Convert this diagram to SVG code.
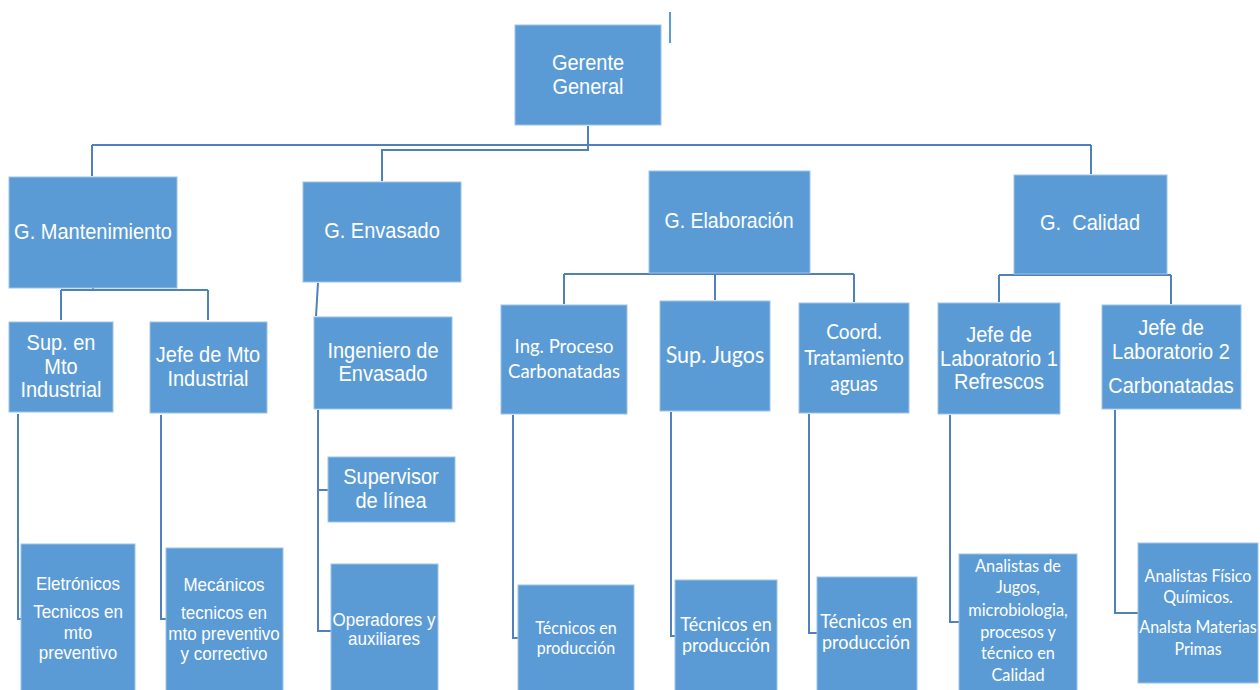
<svg xmlns="http://www.w3.org/2000/svg" width="1260" height="690" viewBox="0 0 1260 690">
  <style>
    .box { fill: #5B9BD5; stroke: #9DC3E6; stroke-width: 1; }
    .a { font-family: "Liberation Sans", Arial, sans-serif; fill: #ffffff; text-anchor: middle; }
    .c { font-family: Lato, "Open Sans", sans-serif; fill: #ffffff; text-anchor: middle; }
    .ln { fill: none; stroke: #4F81BD; stroke-width: 2; }
  </style>
  <rect width="1260" height="690" fill="#ffffff"/>

  <!-- connectors -->
  <g id="connectors" class="ln">
    <path d="M670 12 V43" stroke="#5B9BD5"/>
    <path d="M588 126 V145 M92 145 H1091 M92 145 V176 M1091 145 V174"/>
    <path d="M588 145 V150 H382 V181"/>
    <path d="M93 288 V290 M61 290 H208 M61 290 V320 M208 290 V320"/>
    <path d="M318 283 L316 316"/>
    <path d="M564 274 H854 M564 274 V304 M715 274 V300 M854 274 V302"/>
    <path d="M999 275 H1171 M999 275 V302 M1171 275 V304"/>
    <path d="M18 414 V619 H21"/>
    <path d="M161 415 V619 H166"/>
    <path d="M318 410 V631 H331 M318 490 H328"/>
    <path d="M513 415 V638 H518"/>
    <path d="M671 412 V636 H675"/>
    <path d="M809 414 V633 H817"/>
    <path d="M950 415 V622 H959"/>
    <path d="M1115 410 V613 H1138"/>
  </g>

  <!-- top level -->
  <g id="gerente-general">
    <rect class="box" x="515" y="25" width="146" height="100"/>
    <text class="a" font-size="20" transform="translate(588 70) scale(1 1.13)"><tspan x="0" y="0">Gerente</tspan><tspan x="0" y="21.2">General</tspan></text>
  </g>

  <!-- managers -->
  <g id="g-mantenimiento">
    <rect class="box" x="9" y="177" width="168" height="111"/>
    <text class="a" font-size="20" transform="translate(93 239) scale(1 1.13)"><tspan x="0" y="0">G. Mantenimiento</tspan></text>
  </g>
  <g id="g-envasado">
    <rect class="box" x="303" y="182" width="158" height="100"/>
    <text class="a" font-size="20" transform="translate(382 238) scale(1 1.13)"><tspan x="0" y="0">G. Envasado</tspan></text>
  </g>
  <g id="g-elaboracion">
    <rect class="box" x="649" y="171" width="161" height="102"/>
    <text class="a" font-size="19.5" transform="translate(729 228) scale(1 1.13)"><tspan x="0" y="0">G. Elaboración</tspan></text>
  </g>
  <g id="g-calidad">
    <rect class="box" x="1014" y="175" width="153" height="99"/>
    <text class="a" font-size="20" transform="translate(1090 230) scale(1 1.13)"><tspan x="0" y="0">G.&#160; Calidad</tspan></text>
  </g>

  <!-- second level -->
  <g id="sup-mto-industrial">
    <rect class="box" x="9" y="322" width="104" height="90"/>
    <text class="a" font-size="20" transform="translate(61 350) scale(1 1.13)"><tspan x="0" y="0">Sup. en</tspan><tspan x="0" y="21.2">Mto</tspan><tspan x="0" y="42">Industrial</tspan></text>
  </g>
  <g id="jefe-mto-industrial">
    <rect class="box" x="150" y="322" width="117" height="91"/>
    <text class="a" font-size="20" transform="translate(208 362) scale(1 1.13)"><tspan x="0" y="0">Jefe de Mto</tspan><tspan x="0" y="21.2">Industrial</tspan></text>
  </g>
  <g id="ingeniero-envasado">
    <rect class="box" x="314" y="317" width="138" height="92"/>
    <text class="a" font-size="20" transform="translate(383 358) scale(1 1.13)"><tspan x="0" y="0">Ingeniero de</tspan><tspan x="0" y="20.4">Envasado</tspan></text>
  </g>
  <g id="supervisor-linea">
    <rect class="box" x="328" y="457" width="127" height="65"/>
    <text class="a" font-size="20" transform="translate(391 484) scale(1 1.13)"><tspan x="0" y="0">Supervisor</tspan><tspan x="0" y="21.2">de línea</tspan></text>
  </g>
  <g id="ing-proceso-carbonatadas">
    <rect class="box" x="501" y="305" width="126" height="109"/>
    <text class="c" font-size="18.5" transform="translate(564 353) scale(1 1.08)"><tspan x="0" y="0">Ing. Proceso</tspan><tspan x="0" y="23">Carbonatadas</tspan></text>
  </g>
  <g id="sup-jugos">
    <rect class="box" x="660" y="301" width="110" height="110"/>
    <text class="c" font-size="21.5" transform="translate(715 363) scale(1 1.08)"><tspan x="0" y="0">Sup. Jugos</tspan></text>
  </g>
  <g id="coord-tratamiento-aguas">
    <rect class="box" x="799" y="303" width="110" height="110"/>
    <text class="c" font-size="19" transform="translate(854 339) scale(1 1.08)"><tspan x="0" y="0">Coord.</tspan><tspan x="0" y="24">Tratamiento</tspan><tspan x="0" y="48.2">aguas</tspan></text>
  </g>
  <g id="jefe-laboratorio-1">
    <rect class="box" x="938" y="303" width="122" height="111"/>
    <text class="a" font-size="20" transform="translate(999 342) scale(1 1.13)"><tspan x="0" y="0">Jefe de</tspan><tspan x="0" y="21.2">Laboratorio 1</tspan><tspan x="0" y="41.6">Refrescos</tspan></text>
  </g>
  <g id="jefe-laboratorio-2">
    <rect class="box" x="1102" y="305" width="139" height="104"/>
    <text class="a" font-size="20" transform="translate(1171 335) scale(1 1.13)"><tspan x="0" y="0">Jefe de</tspan><tspan x="0" y="21.2">Laboratorio 2</tspan><tspan x="0" y="51.3">Carbonatadas</tspan></text>
  </g>

  <!-- third level -->
  <g id="eletronicos">
    <rect class="box" x="21" y="544" width="114" height="150"/>
    <text class="a" font-size="17" transform="translate(78 590) scale(1 1.1)"><tspan x="0" y="0">Eletrónicos</tspan><tspan x="0" y="25.5">Tecnicos en</tspan><tspan x="0" y="44.5">mto</tspan><tspan x="0" y="62.7">preventivo</tspan></text>
  </g>
  <g id="mecanicos">
    <rect class="box" x="166" y="548" width="117" height="146"/>
    <text class="a" font-size="17" transform="translate(224 591) scale(1 1.1)"><tspan x="0" y="0">Mecánicos</tspan><tspan x="0" y="25.5">tecnicos en</tspan><tspan x="0" y="44.5">mto preventivo</tspan><tspan x="0" y="62.7">y correctivo</tspan></text>
  </g>
  <g id="operadores-auxiliares">
    <rect class="box" x="331" y="564" width="107" height="130"/>
    <text class="a" font-size="17" transform="translate(384 626) scale(1 1.1)"><tspan x="0" y="0">Operadores y</tspan><tspan x="0" y="17.3">auxiliares</tspan></text>
  </g>
  <g id="tecnicos-produccion-1">
    <rect class="box" x="518" y="585" width="116" height="109"/>
    <text class="c" font-size="16" transform="translate(576 634) scale(1 1.08)"><tspan x="0" y="0">Técnicos en</tspan><tspan x="0" y="18.5">producción</tspan></text>
  </g>
  <g id="tecnicos-produccion-2">
    <rect class="box" x="675" y="580" width="102" height="114"/>
    <text class="c" font-size="18" transform="translate(726 631) scale(1 1.06)"><tspan x="0" y="0">Técnicos en</tspan><tspan x="0" y="19.5">producción</tspan></text>
  </g>
  <g id="tecnicos-produccion-3">
    <rect class="box" x="817" y="577" width="100" height="117"/>
    <text class="c" font-size="18" transform="translate(866 628) scale(1 1.06)"><tspan x="0" y="0">Técnicos en</tspan><tspan x="0" y="19.5">producción</tspan></text>
  </g>
  <g id="analistas-jugos">
    <rect class="box" x="959" y="554" width="118" height="140"/>
    <text class="c" font-size="16.3" transform="translate(1018 572) scale(1 1.08)"><tspan x="0" y="0">Analistas de</tspan><tspan x="0" y="19.8">Jugos,</tspan><tspan x="0" y="40.8">microbiologia,</tspan><tspan x="0" y="61">procesos y</tspan><tspan x="0" y="80.5">técnico en</tspan><tspan x="0" y="100.8">Calidad</tspan></text>
  </g>
  <g id="analistas-fisico-quimicos">
    <rect class="box" x="1138" y="543" width="120" height="140"/>
    <text class="c" font-size="16" transform="translate(1198 582) scale(1 1.08)"><tspan x="0" y="0">Analistas Físico</tspan><tspan x="0" y="19.4">Químicos.</tspan><tspan x="0" y="47.2">Analsta Materias</tspan><tspan x="0" y="67.6">Primas</tspan></text>
  </g>
</svg>
